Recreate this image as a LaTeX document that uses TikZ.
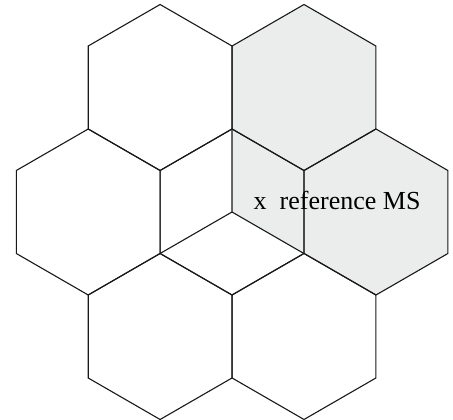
\documentclass[tikz,border=0pt]{standalone}
\usepackage{fontspec}
\setmainfont{Liberation Serif}
\definecolor{cellgray}{RGB}{235,237,237}
\begin{document}
\begin{tikzpicture}[x=1pt,y=1pt,
  hexline/.style={line width=1.1pt,draw=black!90,line join=miter},
  shade/.style={fill=cellgray,draw=none}]
\useasboundingbox (0,0) rectangle (453,420);
\def\s{83}
\coordinate (C) at (232,208);
% shaded cells
\foreach \cx/\cy in {304/332.5, 376/208}{
  \fill[shade,shift={(\cx,\cy)}] (90:\s) -- (30:\s) -- (-30:\s) -- (-90:\s) -- (-150:\s) -- (150:\s) -- cycle;
}
\fill[shade,shift={(C)}] (0,0) -- (90:\s) -- (30:\s) -- (-30:\s) -- cycle;
% outlines
\foreach \cx/\cy in {160.1/332.5, 304/332.5, 88.2/208, 232/208, 376/208, 160.1/83.5, 304/83.5}{
  \draw[hexline,shift={(\cx,\cy)}] (90:\s) -- (30:\s) -- (-30:\s) -- (-90:\s) -- (-150:\s) -- (150:\s) -- cycle;
}
\draw[hexline,shift={(C)}] (0,0) -- (90:\s) (0,0) -- (-150:\s) (0,0) -- (-30:\s);
\node[anchor=base west,inner sep=0pt,font=\fontsize{26}{30}\selectfont] (ms) at (253.5,210) {x\ \ reference MS};
\end{tikzpicture}
\end{document}
